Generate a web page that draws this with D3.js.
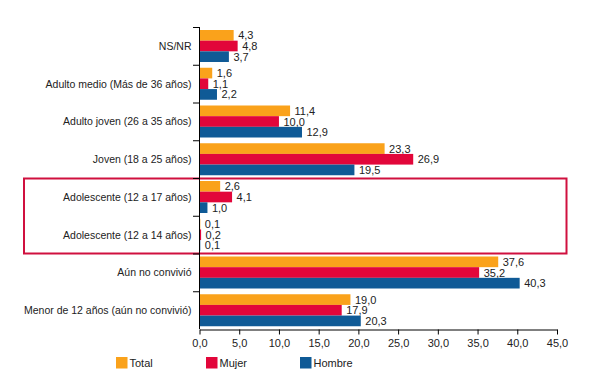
<!DOCTYPE html>
<html><head><meta charset="utf-8">
<script src="https://cdn.jsdelivr.net/npm/d3@7"></script>
<style>body{margin:0;background:#fff;}svg{display:block;font-family:"Liberation Sans",Arial,sans-serif;}</style>
</head><body>
<svg id="c" width="600" height="391"></svg>
<script>
const categories = ["NS/NR","Adulto medio (Más de 36 años)","Adulto joven (26 a 35 años)","Joven (18 a 25 años)","Adolescente (12 a 17 años)","Adolescente (12 a 14 años)","Aún no convivió","Menor de 12 años (aún no convivió)"];
const seriesNames = ["Total","Mujer","Hombre"];
const totalValues = [4.3,1.6,11.4,23.3,2.6,0.1,37.6,19.0];
const mujerValues = [4.8,1.1,10.0,26.9,4.1,0.2,35.2,17.9];
const hombreValues = [3.7,2.2,12.9,19.5,1.0,0.1,40.3,20.3];
const xTicks = [0,5,10,15,20,25,30,35,40,45];
const colors = ["#FAA21B","#E2063A","#0F5A96"];

const svg = d3.select("#c");
const x = d3.scaleLinear().domain([0,45]).range([199.5,557]);
const y = d3.scaleBand().domain(categories).range([27,329]).paddingInner(0).paddingOuter(0);
const inner = d3.scaleBand().domain(seriesNames).range([3, y.bandwidth()-2.75]);
const fmt = v => d3.format(".1f")(v).replace(".", ",");
const seriesData = [totalValues, mujerValues, hombreValues];

// highlight box
svg.append("rect").attr("x",24).attr("y",178.5).attr("width",542.5).attr("height",75)
  .attr("fill","none").attr("stroke","#D0103F").attr("stroke-width",2);

// bars
seriesNames.forEach((s,si)=>{
  const g = svg.append("g");
  categories.forEach((c,ci)=>{
    const v = seriesData[si][ci];
    const yy = y(c)+inner(s);
    g.append("rect").attr("x",x(0)).attr("y",yy).attr("width",x(v)-x(0)).attr("height",inner.bandwidth())
      .attr("fill",colors[si]);
    g.append("text").attr("x",x(v)+4.5).attr("y",yy+inner.bandwidth()/2+4)
      .attr("font-size",11).attr("fill","#222").text(fmt(v));
  });
});

// y axis
svg.append("line").attr("x1",199.5).attr("x2",199.5).attr("y1",27).attr("y2",329).attr("stroke","#000");
const bounds = categories.map(c=>y(c));
bounds.forEach(b=>{
  svg.append("line").attr("x1",193).attr("x2",199.5).attr("y1",b+0.5).attr("y2",b+0.5).attr("stroke","#000");
});
categories.forEach(c=>{
  svg.append("text").attr("x",191.5).attr("y",y(c)+y.bandwidth()/2+4).attr("text-anchor","end")
    .attr("font-size",10.5).attr("fill","#222").text(c);
});

// x axis
const xa = svg.append("g").attr("transform","translate(0,329.5)")
  .call(d3.axisBottom(x).tickValues(xTicks).tickFormat(fmt).tickSize(5).tickSizeOuter(0));
xa.select(".domain").attr("stroke","#000");
xa.selectAll(".tick line").attr("stroke","#000");
xa.selectAll(".tick text").attr("font-size",11).attr("fill","#222").attr("font-family","Liberation Sans, Arial, sans-serif").attr("dy","0.85em");

// legend
const legX = [116,206,300];
seriesNames.forEach((s,i)=>{
  svg.append("rect").attr("x",legX[i]).attr("y",357).attr("width",11.5).attr("height",11.5).attr("fill",colors[i]);
  svg.append("text").attr("x",legX[i]+13.5).attr("y",367).attr("font-size",11).attr("fill","#222").text(s);
});
</script>
</body></html>
